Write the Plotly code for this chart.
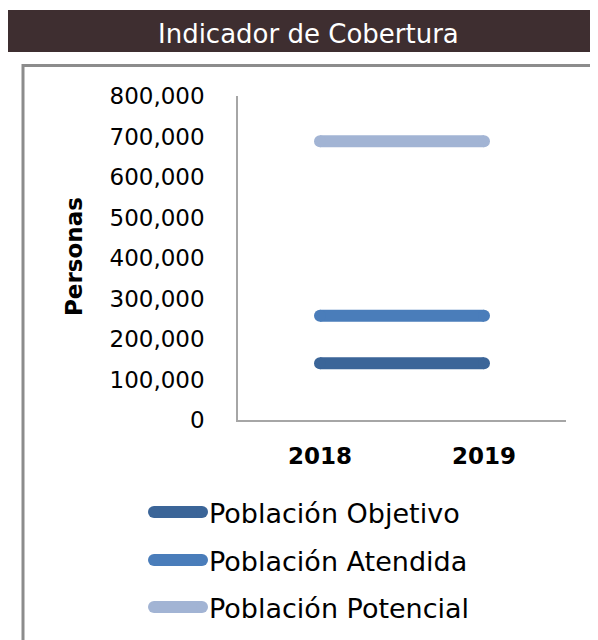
import plotly.graph_objects as go

# ---- data ----
years = ["2018", "2019"]
series_names = ["Población Objetivo", "Población Atendida", "Población Potencial"]
objetivo = [140000, 140000]
atendida = [257500, 257500]
potencial = [688000, 688000]
y_ticks = [0, 100000, 200000, 300000, 400000, 500000, 600000, 700000, 800000]
y_tick_labels = ["0", "100,000", "200,000", "300,000", "400,000", "500,000",
                 "600,000", "700,000", "800,000"]
title_text = "Indicador de Cobertura"
y_title = "Personas"

colors = ["#3b6598", "#4a7dba", "#a2b4d4"]
values = [objetivo, atendida, potencial]

OFF = 8  # page body margin
W, H = 598 - OFF, 640 - OFF
FONT = "DejaVu Sans"


def px(x):
    return (x - OFF) / W


def py(y):
    return 1 - (y - OFF) / H


fig = go.Figure()
for name, vals, col in zip(series_names, values, colors):
    fig.add_trace(go.Scatter(
        x=years, y=vals, name=name, mode="lines+markers",
        line=dict(color=col, width=12),
        marker=dict(color=col, size=12, line=dict(width=0)),
        showlegend=False, hoverinfo="x+y+name",
    ))

shapes = []
annotations = []

# title bar
shapes.append(dict(type="rect", xref="paper", yref="paper",
                   x0=px(4), x1=px(600), y0=py(52), y1=py(10),
                   fillcolor="#3e2e30", line=dict(width=0), layer="below"))
annotations.append(dict(text=title_text, xref="paper", yref="paper",
                        x=px(308), y=py(34), xanchor="center", yanchor="middle",
                        showarrow=False, font=dict(family=FONT, size=26, color="white")))

# outer box
shapes.append(dict(type="rect", xref="paper", yref="paper",
                   x0=px(23), x1=px(595.5), y0=py(660), y1=py(65.5),
                   fillcolor="rgba(0,0,0,0)", line=dict(color="#8c8c8c", width=3),
                   layer="below"))

# y title
annotations.append(dict(text=y_title, xref="paper", yref="paper",
                        x=px(74), y=py(257), xanchor="center", yanchor="middle",
                        textangle=-90, showarrow=False,
                        font=dict(family=FONT, size=23, color="black", weight="bold")))

# manual legend
legend_y = [512, 560, 607]
for name, col, ly in zip(series_names, colors, legend_y):
    shapes.append(dict(type="line", xref="paper", yref="paper",
                       x0=px(154), x1=px(202), y0=py(ly), y1=py(ly),
                       line=dict(color=col, width=12)))
    for cx in (154, 202):
        shapes.append(dict(type="circle", xref="paper", yref="paper",
                           x0=px(cx - 6), x1=px(cx + 6), y0=py(ly + 6), y1=py(ly - 6),
                           fillcolor=col, line=dict(width=0)))
    annotations.append(dict(text=name, xref="paper", yref="paper",
                            x=px(207), y=py(ly + 1), xanchor="left", yanchor="middle",
                            showarrow=False,
                            font=dict(family=FONT, size=27, color="black")))

fig.update_layout(
    width=W, height=H, autosize=False,
    margin=dict(l=0, r=0, t=0, b=0, autoexpand=False),
    paper_bgcolor="white", plot_bgcolor="white",
    shapes=shapes, annotations=annotations,
    xaxis=dict(domain=[px(238), px(566)], type="category", range=[-0.5, 1.5],
               showgrid=False, zeroline=False, showline=True, linecolor="#a6a6a6",
               linewidth=1.5, ticks="", ticklabelstandoff=15,
               tickfont=dict(family=FONT, size=23, color="black", weight="bold")),
    yaxis=dict(domain=[py(420), py(96)], range=[0, 800000],
               tickvals=y_ticks, ticktext=y_tick_labels,
               showgrid=False, zeroline=False, showline=True, linecolor="#a6a6a6",
               linewidth=1.5, ticks="", ticklabelstandoff=27,
               tickfont=dict(family=FONT, size=23, color="black")),
)

fig.write_html("out.html")
